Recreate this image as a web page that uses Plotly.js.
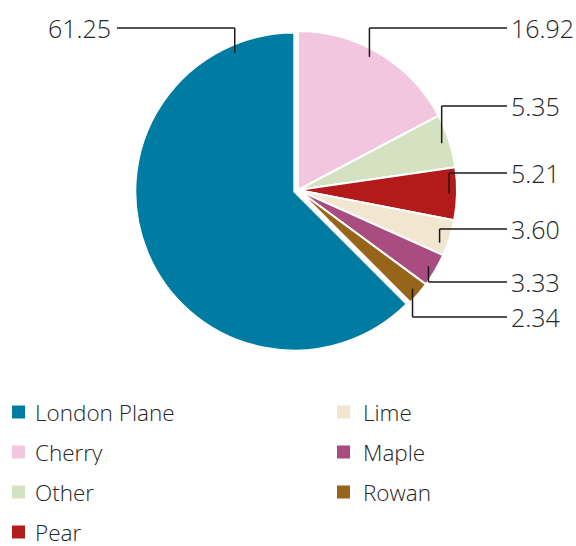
<!DOCTYPE html>
<html><head><meta charset="utf-8">
<script src="https://cdn.plot.ly/plotly-3.0.1.min.js"></script>
<style>html,body{margin:0;padding:0;background:#fff}</style>
</head><body>
<div id="chart" style="width:576px;height:546px"></div>
<script>
const categories = ["London Plane","Cherry","Other","Pear","Lime","Maple","Rowan"];
const values = [61.25,16.92,5.35,5.21,3.60,3.33,2.34];
const valueLabels = ["61.25","16.92","5.35","5.21","3.60","3.33","2.34"];
const colors = ["#007ca3","#f2c6df","#d4e2c1","#b31a1a","#f2e6d0","#a94c80","#97651a"];

const W = 576, H = 546;
const FONT = "Open Sans, Noto Sans, sans-serif";
const TXT = "#262626";
const LINE = "#1a1a1a";
// label placement (layout)
const labelY = [28, 28, 106, 173, 229, 282, 317];
const leftLineEnd = 117, rightLineEnd = 507;
const anchorRadiusFrac = 0.95;
const anchorAngleShift = [0, -0.05, 0, 0, 0.05, 0, 0]; // radians
const bigSliceAnchorFrac = 0.89;
// legend layout
const legCols = [{sq: 12, tx: 34}, {sq: 337, tx: 362}];
const legRow0 = 412, legRowStep = 40, legPerCol = 4, sq = 13;

const px2x = x => x / W;
const px2y = y => 1 - y / H;

const trace = {
  type: "pie",
  labels: categories,
  values: values,
  sort: false,
  direction: "clockwise",
  rotation: 135,
  pull: values.map((v, i) => i === 0 ? 0.025 : 0),
  marker: {colors: colors, line: {color: "#ffffff", width: 2}},
  textinfo: "none",
  hoverinfo: "label+value",
  showlegend: false,
  automargin: false,
  domain: {x: [134 / W, 462 / W], y: [px2y(353), px2y(27)]}
};

const layout = {
  width: W, height: H,
  margin: {l: 0, r: 0, t: 0, b: 0},
  paper_bgcolor: "#ffffff",
  showlegend: false,
  font: {family: FONT, color: TXT}
};

const gd = document.getElementById("chart");
Plotly.newPlot(gd, [trace], layout, {staticPlot: true}).then(() => {
  const cd = gd.calcdata[0];
  const cd0 = cd[0];
  const cx = cd0.cx, cy = cd0.cy, r = cd0.r;
  const shapes = [], annotations = [];
  cd.forEach((pt, i) => {
    let ang = pt.midangle + anchorAngleShift[i];
    if (i === 0) ang = pt.startangle + (pt.stopangle - pt.startangle) * bigSliceAnchorFrac;
    const pullR = (pt.pull || 0) * r;
    const ox = cx + pullR * Math.sin(pt.midangle), oy = cy - pullR * Math.cos(pt.midangle);
    const ax = ox + anchorRadiusFrac * r * Math.sin(ang);
    const ay = oy - anchorRadiusFrac * r * Math.cos(ang);
    const ly = labelY[i];
    const left = ax < cx;
    const lx = left ? leftLineEnd : rightLineEnd;
    const ln = {type: "line", xref: "paper", yref: "paper", line: {color: LINE, width: 1.5}};
    shapes.push(Object.assign({}, ln, {x0: px2x(ax), y0: px2y(ay), x1: px2x(ax), y1: px2y(ly)}));
    shapes.push(Object.assign({}, ln, {x0: px2x(ax), y0: px2y(ly), x1: px2x(lx), y1: px2y(ly)}));
    annotations.push({
      xref: "paper", yref: "paper", showarrow: false,
      x: px2x(left ? lx - 4 : lx + 2), y: px2y(ly),
      xanchor: left ? "right" : "left", yanchor: "middle",
      text: valueLabels[i],
      font: {family: FONT, size: 25, color: TXT, weight: 300}
    });
  });
  categories.forEach((c, i) => {
    const col = legCols[Math.floor(i / legPerCol)];
    const yc = legRow0 + (i % legPerCol) * legRowStep;
    shapes.push({type: "rect", xref: "paper", yref: "paper",
      x0: px2x(col.sq), x1: px2x(col.sq + sq), y0: px2y(yc - sq / 2), y1: px2y(yc + sq / 2),
      fillcolor: colors[i], line: {width: 0}});
    annotations.push({xref: "paper", yref: "paper", showarrow: false,
      x: px2x(col.tx), y: px2y(yc), xanchor: "left", yanchor: "middle",
      height: 26, borderpad: 0, valign: "middle",
      text: c, font: {family: FONT, size: 22.5, color: TXT, weight: 300}});
  });
  return Plotly.relayout(gd, {shapes: shapes, annotations: annotations});
});
</script>
</body></html>
